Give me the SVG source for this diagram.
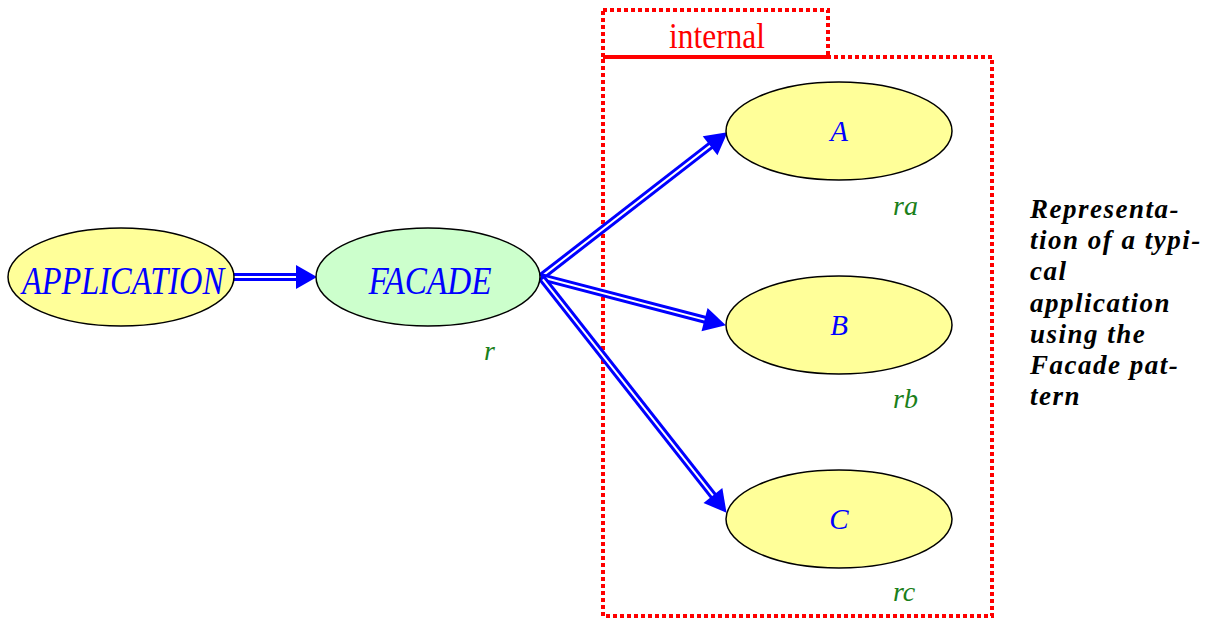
<svg xmlns="http://www.w3.org/2000/svg" width="1224" height="619" viewBox="0 0 1224 619">
<defs>
<style>
.node{stroke:#000;stroke-width:1.5}
.yel{fill:#ffff99}
.grn{fill:#ccffcc}
.lbl{font-family:"Liberation Serif",serif;font-style:italic;fill:#0000ff;text-anchor:middle}
.role{font-family:"Liberation Serif",serif;font-style:italic;fill:#1a801a;font-size:28px}
.outer{stroke:#0000ff;stroke-width:8;fill:none}
.inner{stroke:#fff;stroke-width:2;fill:none}
.head{fill:#0000ff}
.dash{fill:none;stroke:#ff0000;stroke-width:4;stroke-dasharray:4 3}
.cap{font-family:"Liberation Serif",serif;font-style:italic;font-weight:bold;font-size:27px;letter-spacing:1.5px;fill:#000}
</style>
</defs>
<g id="internal-box">
<rect class="dash" x="603" y="10" width="225" height="47"/>
<rect class="dash" x="603" y="57" width="389" height="559"/>
<line x1="603" y1="57" x2="828" y2="57" stroke="#ff0000" stroke-width="4"/>
<text x="717" y="48" font-family="Liberation Serif,serif" font-size="36" fill="#ff0000" text-anchor="middle" textLength="96" lengthAdjust="spacingAndGlyphs">internal</text>
</g>
<g id="connectors">
<g>
<line class="outer" x1="234" y1="277" x2="298" y2="277"/>
<line class="inner" x1="234" y1="277" x2="300" y2="277"/>
<polygon class="head" points="317,277 296,265 296,289"/>
</g>
<g transform="translate(541,277) rotate(-37.8)">
<line class="outer" x1="0" y1="0" x2="218" y2="0"/>
<line class="inner" x1="3" y1="0" x2="220" y2="0"/>
<polygon class="head" points="236,0 214,-12 214,12"/>
</g>
<g transform="translate(541,277) rotate(14.6)">
<line class="outer" x1="0" y1="0" x2="172" y2="0"/>
<line class="inner" x1="3" y1="0" x2="174" y2="0"/>
<polygon class="head" points="191,0 169,-12 169,12"/>
</g>
<g transform="translate(541,277) rotate(51.8)">
<line class="outer" x1="0" y1="0" x2="281" y2="0"/>
<line class="inner" x1="3" y1="0" x2="283" y2="0"/>
<polygon class="head" points="300,0 278,-12 278,12"/>
</g>
</g>
<g id="application">
<ellipse class="node yel" cx="121" cy="277" rx="113" ry="49"/>
<text class="lbl" x="123" y="294" font-size="40" textLength="202" lengthAdjust="spacingAndGlyphs">APPLICATION</text>
</g>
<g id="facade">
<ellipse class="node grn" cx="428" cy="277" rx="112" ry="49"/>
<text class="lbl" x="430" y="294" font-size="40" textLength="123" lengthAdjust="spacingAndGlyphs">FACADE</text>
<text class="role" x="484" y="360">r</text>
</g>
<g id="a">
<ellipse class="node yel" cx="839" cy="131" rx="113" ry="49"/>
<text class="lbl" x="839" y="141" font-size="29">A</text>
<text class="role" x="893" y="215">ra</text>
</g>
<g id="b">
<ellipse class="node yel" cx="839" cy="325" rx="113" ry="49"/>
<text class="lbl" x="839" y="335" font-size="29">B</text>
<text class="role" x="893" y="408">rb</text>
</g>
<g id="c">
<ellipse class="node yel" cx="839" cy="519" rx="113" ry="49"/>
<text class="lbl" x="839" y="529" font-size="29">C</text>
<text class="role" x="893" y="601">rc</text>
</g>
<g id="caption">
<text class="cap" x="1030" y="218">Representa-</text>
<text class="cap" x="1030" y="249">tion of a typi-</text>
<text class="cap" x="1030" y="280">cal</text>
<text class="cap" x="1030" y="312">application</text>
<text class="cap" x="1030" y="343">using the</text>
<text class="cap" x="1030" y="374">Facade pat-</text>
<text class="cap" x="1030" y="405">tern</text>
</g>
</svg>
